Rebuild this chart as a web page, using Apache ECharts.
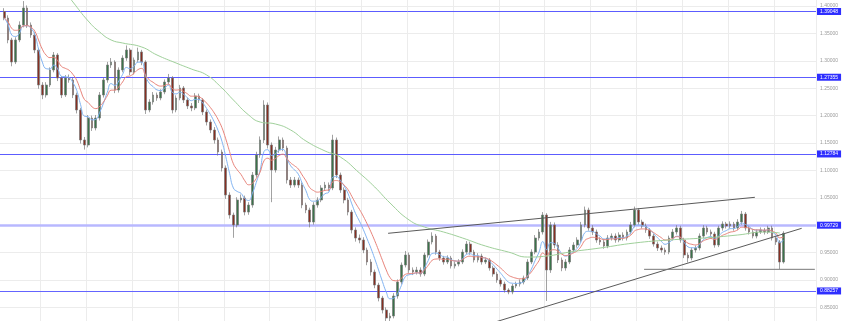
<!DOCTYPE html>
<html><head><meta charset="utf-8">
<script src="https://cdn.jsdelivr.net/npm/echarts@6/dist/echarts.min.js"></script>
<style>html,body{margin:0;padding:0;background:#fff}#c{width:845px;height:321px}</style>
</head><body><div id="c"></div>
<script>
// ---- data ----
const firstOpen = 1.3900;
const closes = [
1.3781,1.3380,1.2978,1.3380,1.3653,1.3964,1.3653,1.3471,1.3197,1.2558,
1.2376,1.2558,1.2832,1.3106,1.2686,1.2376,1.2686,1.2650,1.2376,1.2102,
1.1555,1.1463,1.1956,1.1774,1.1956,1.2376,1.2650,1.2923,1.2978,1.2467,
1.2832,1.3051,1.3197,1.2796,1.3015,1.3161,1.2978,1.2102,1.2248,1.2376,
1.2321,1.2431,1.2613,1.2686,1.2102,1.2321,1.2504,1.2285,1.2175,1.2139,
1.2358,1.2285,1.2066,1.1883,1.1737,1.1555,1.1335,1.1044,1.0551,1.0186,
1.0004,1.0460,1.0496,1.0240,1.0368,1.0916,1.1281,1.1555,1.2193,1.1463,
1.1007,1.1372,1.1555,1.1409,1.0825,1.0733,1.0825,1.0733,1.0368,1.0277,
1.0058,1.0368,1.0460,1.0679,1.0733,1.0679,1.1555,1.0916,1.0642,1.0460,
1.0240,0.9912,0.9766,0.9730,0.9547,0.9328,0.9146,0.8908,0.8671,0.8452,
0.8306,0.8343,0.8708,0.8963,0.9273,0.9456,0.9182,0.9146,0.9182,0.9109,
0.9456,0.9693,0.9802,0.9510,0.9401,0.9328,0.9401,0.9255,0.9291,0.9328,
0.9510,0.9656,0.9510,0.9365,0.9437,0.9328,0.9365,0.9219,0.9109,0.9000,
0.8927,0.8817,0.8781,0.8890,0.8927,0.8963,0.9036,0.9328,0.9510,0.9766,
0.9876,1.0186,0.9182,1.0004,0.9638,0.9365,0.9219,0.9328,0.9547,0.9638,
0.9730,1.0004,1.0277,0.9949,0.9876,0.9730,0.9693,0.9620,0.9766,0.9802,
0.9730,0.9821,0.9766,0.9876,1.0004,1.0277,1.0058,0.9985,0.9912,0.9802,
0.9656,0.9584,0.9547,0.9510,0.9766,0.9876,0.9949,0.9730,0.9456,0.9401,
0.9547,0.9584,0.9802,0.9949,0.9876,0.9839,0.9638,0.9949,1.0022,0.9985,
1.0022,0.9949,1.0058,1.0204,0.9949,0.9876,0.9802,0.9876,0.9912,0.9876,
0.9949,0.9766,0.9693,0.9328,0.9853];
const highs = [
1.3960,1.3830,1.3420,1.3430,1.3720,1.4090,1.4010,1.3700,1.3520,1.3230,
1.2610,1.2610,1.2880,1.3160,1.3140,1.2720,1.2740,1.2750,1.2690,1.2420,
1.2140,1.1610,1.2010,1.2000,1.2010,1.2430,1.2700,1.2980,1.3050,1.3010,
1.2880,1.3100,1.3280,1.3230,1.3060,1.3240,1.3200,1.3010,1.2300,1.2430,
1.2420,1.2480,1.2660,1.2760,1.2720,1.2370,1.2560,1.2540,1.2330,1.2230,
1.2410,1.2400,1.2320,1.2110,1.1930,1.1790,1.1600,1.1380,1.1090,1.0600,
1.0230,1.0510,1.0560,1.0540,1.0420,1.0970,1.1340,1.1620,1.2280,1.2240,
1.1510,1.1430,1.1620,1.1600,1.1450,1.0880,1.0880,1.0870,1.0780,1.0410,
1.0320,1.0420,1.0510,1.0730,1.0790,1.0780,1.1650,1.1600,1.0960,1.0690,
1.0500,1.0280,0.9960,0.9830,0.9780,0.9590,0.9380,0.9190,0.8950,0.8710,
0.8500,0.8400,0.8760,0.9010,0.9320,0.9530,0.9500,0.9230,0.9240,0.9230,
0.9500,0.9740,0.9870,0.9840,0.9550,0.9440,0.9450,0.9440,0.9340,0.9380,
0.9560,0.9710,0.9700,0.9550,0.9490,0.9480,0.9410,0.9400,0.9260,0.9150,
0.9040,0.8970,0.8850,0.8930,0.8970,0.9010,0.9080,0.9380,0.9560,0.9820,
0.9930,1.0240,1.0220,1.0060,1.0050,0.9690,0.9410,0.9380,0.9600,0.9690,
0.9780,1.0060,1.0340,1.0320,1.0000,0.9920,0.9780,0.9740,0.9820,0.9850,
0.9850,0.9870,0.9870,0.9920,1.0060,1.0340,1.0310,1.0100,1.0030,0.9950,
0.9840,0.9700,0.9630,0.9590,0.9810,0.9930,1.0000,0.9990,0.9770,0.9500,
0.9590,0.9630,0.9850,1.0000,0.9990,0.9920,0.9880,0.9990,1.0070,1.0060,
1.0070,1.0060,1.0110,1.0260,1.0240,0.9990,0.9920,0.9920,0.9960,0.9950,
0.9990,0.9990,0.9800,0.9730,0.9890];
const lows = [
1.3740,1.3320,1.2900,1.2940,1.3340,1.3610,1.3600,1.3420,1.3140,1.2490,
1.2300,1.2330,1.2520,1.2790,1.2630,1.2320,1.2340,1.2600,1.2320,1.2040,
1.1490,1.1380,1.1420,1.1720,1.1730,1.1910,1.2330,1.2600,1.2870,1.2410,
1.2420,1.2790,1.3000,1.2740,1.2750,1.2970,1.2920,1.2030,1.2060,1.2200,
1.2270,1.2280,1.2390,1.2570,1.2040,1.2060,1.2280,1.2230,1.2120,1.2080,
1.2100,1.2230,1.2010,1.1820,1.1680,1.1490,1.1270,1.0980,1.0480,1.0120,
0.9770,0.9960,1.0410,1.0180,1.0190,1.0320,1.0870,1.1230,1.1500,1.1400,
1.0420,1.0960,1.1320,1.1350,1.0760,1.0680,1.0690,1.0680,1.0310,1.0220,
0.9960,1.0010,1.0320,1.0420,1.0630,1.0620,1.0640,1.0860,1.0590,1.0400,
1.0180,0.9850,0.9700,0.9670,0.9490,0.9270,0.9080,0.8850,0.8610,0.8390,
0.8230,0.8250,0.8300,0.8660,0.8920,0.9230,0.9130,0.9090,0.9100,0.9060,
0.9070,0.9410,0.9650,0.9460,0.9350,0.9280,0.9290,0.9210,0.9210,0.9250,
0.9290,0.9470,0.9460,0.9320,0.9320,0.9280,0.9290,0.9170,0.9060,0.8950,
0.8880,0.8770,0.8740,0.8740,0.8850,0.8880,0.8920,0.9000,0.9290,0.9470,
0.9720,0.9830,0.8617,0.9130,0.9580,0.9310,0.9160,0.9170,0.9290,0.9500,
0.9590,0.9690,0.9960,0.9900,0.9820,0.9680,0.9640,0.9570,0.9580,0.9720,
0.9680,0.9690,0.9720,0.9720,0.9830,0.9960,1.0010,0.9940,0.9860,0.9750,
0.9610,0.9530,0.9500,0.9460,0.9470,0.9720,0.9830,0.9680,0.9400,0.9320,
0.9360,0.9500,0.9540,0.9760,0.9830,0.9790,0.9590,0.9600,0.9900,0.9940,
0.9940,0.9900,0.9910,1.0010,0.9900,0.9830,0.9760,0.9760,0.9840,0.9830,
0.9840,0.9720,0.9640,0.9200,0.9300];
// long moving average (green): [slot index, price]
const greenIdx = [18,20,24,27,30,33,38,42,47,51,55,59,62,66,69,73,77,81,86,90,95,99,103,108,112,117,122,128,134,139,144,150,158,167,176,185,194,201,205];
const greenVal = [1.4256,1.4073,1.3726,1.3525,1.3380,1.3325,1.3252,1.3106,1.2960,1.2850,1.2741,1.2504,1.2285,1.2011,1.1883,1.1847,1.1737,1.1536,1.1354,1.1244,1.0952,1.0697,1.0405,1.0095,0.9967,0.9876,0.9766,0.9620,0.9510,0.9419,0.9437,0.9510,0.9584,0.9675,0.9730,0.9766,0.9821,0.9876,0.9858];
const levels = [1.39048, 1.27355, 1.12784, 0.99729, 0.88257];
const lastPrice = 0.98527;
const upperWedge = [[102.5, 0.9852], [198.5, 1.0509]];
const lowerWedge = [[131, 0.8243], [210.75, 0.9943]];
const supportLine = [[169.5, 0.9195], [214.2, 0.9195]];
const LEAD = 2, TRAIL = 8;
const yTicks = {min: 0.80, max: 1.45, step: 0.05};

// ---- build ----
const total = LEAD + closes.length + TRAIL;
const cats = Array.from({length: total}, (_, i) => 'p' + i);
const candle = cats.map((_, i) => {
  const k = i - LEAD;
  if (k < 0 || k >= closes.length) return '-';
  const o = k === 0 ? firstOpen : closes[k - 1];
  return [o, closes[k], lows[k], highs[k]];
});
function ema(arr, n) {
  const a = 2 / (n + 1); const out = []; let e = arr[0];
  arr.forEach((v, i) => { e = i === 0 ? v : a * v + (1 - a) * e; out.push(+e.toFixed(5)); });
  return out;
}
const pad = (arr) => cats.map((_, i) => { const k = i - LEAD; return (k < 0 || k >= arr.length) ? '-' : arr[k]; });
const blueMA = pad(ema(closes, 6));
const redMA = pad(ema(closes, 11));
const green = greenIdx.map((x, i) => [x, greenVal[i]]);

const lvlColor = ['#5c5cff', '#5c5cff', '#5c5cff', '#b8b8ff', '#6464ff'];
const lvlWidth = [1, 1, 1.2, 2.5, 1.2];
const chart = echarts.init(document.getElementById('c'), null, {renderer: 'canvas'});
chart.setOption({
  animation: false,
  backgroundColor: '#fff',
  grid: {left: -5.4, right: 29, top: -21.4, height: 356.2, containLabel: false, outerBoundsMode: 'none'},
  xAxis: [
    {type: 'category', data: cats, boundaryGap: true, axisLine: {show: false}, axisTick: {show: false}, axisLabel: {show: false},
     splitLine: {show: true, interval: 11, lineStyle: {color: '#ececec', width: 1}}},
    {type: 'value', min: -0.5, max: total - 0.5, show: false, splitLine: {show: false}}
  ],
  yAxis: {type: 'value', position: 'right', min: yTicks.min, max: yTicks.max, interval: yTicks.step, scale: false,
    axisLine: {show: true, lineStyle: {color: '#9a9a9a'}},
    axisTick: {show: true, length: 3, lineStyle: {color: '#bbb'}},
    axisLabel: {color: '#9a9a9a', fontSize: 5, margin: 4, fontFamily: 'Liberation Sans', formatter: v => v.toFixed(5)},
    splitLine: {show: true, lineStyle: {color: '#ececec'}}},
  series: [
    {type: 'candlestick', data: candle, barWidth: 2.2, z: 4,
     itemStyle: {color: '#3a744a', color0: '#872f22', borderColor: '#7a7a7a', borderColor0: '#7a7a7a', borderWidth: 0.7},
     markLine: {silent: true, symbol: 'none', z: 3,
       data: levels.map((v, i) => ({yAxis: v, lineStyle: {color: lvlColor[i], width: lvlWidth[i], type: 'solid'},
         label: {show: true, position: 'end', distance: 1, formatter: () => v.toFixed(5), color: '#fff', backgroundColor: '#2e2eff',
                 padding: [1, 3, 1, 3], fontSize: 5, fontFamily: 'Liberation Sans'}}))
         .concat([{yAxis: lastPrice, lineStyle: {opacity: 0}, label: {show: true, position: 'end', distance: 1, formatter: () => lastPrice.toFixed(5),
           color: '#fff', backgroundColor: '#62a473', padding: [1, 3, 1, 3], fontSize: 5, fontFamily: 'Liberation Sans'}}])}},
    {type: 'line', data: blueMA, symbol: 'none', smooth: true, lineStyle: {color: '#82b4f2', width: 1}, z: 5},
    {type: 'line', data: redMA, symbol: 'none', smooth: true, lineStyle: {color: '#e8837a', width: 1}, z: 5},
    {type: 'line', xAxisIndex: 1, data: green, symbol: 'none', smooth: true, lineStyle: {color: '#9fd09a', width: 1}, z: 5},
    {type: 'line', xAxisIndex: 1, data: upperWedge, symbol: 'none', lineStyle: {color: '#5a5a5a', width: 1}, z: 6},
    {type: 'line', xAxisIndex: 1, data: lowerWedge, symbol: 'none', lineStyle: {color: '#5a5a5a', width: 1}, z: 6},
    {type: 'line', xAxisIndex: 1, data: supportLine, symbol: 'none', lineStyle: {color: '#777', width: 1}, z: 6}
  ]
});
</script></body></html>
